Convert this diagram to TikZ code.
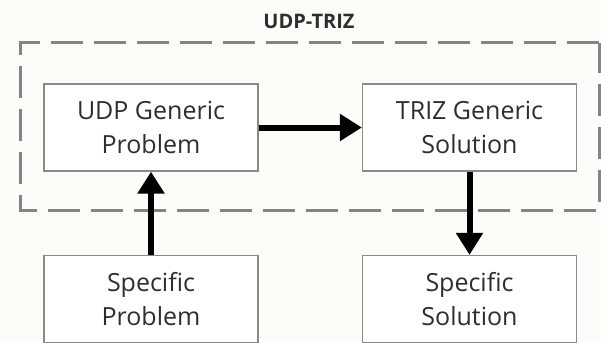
\documentclass[tikz,border=0pt]{standalone}
\usepackage{fontspec}
\setmainfont{Open Sans}
\usetikzlibrary{arrows.meta}
\definecolor{bg}{HTML}{FCFCF9}
\definecolor{txt}{HTML}{2E2E2E}
\definecolor{dashc}{HTML}{848484}
\definecolor{boxc}{HTML}{8A8A8A}
\begin{document}
\begin{tikzpicture}[x=1pt,y=-1pt,
  box/.style={draw=boxc,line width=1.3pt,fill=white,minimum width=214pt,minimum height=87pt,
    align=center,font=\fontsize{25}{34}\selectfont,text=txt,inner sep=0pt},
  conn/.style={line width=6pt,-{Triangle[length=22pt,width=26pt]}}]
\fill[bg] (0,0) rectangle (601,342);
\useasboundingbox (0,0) rectangle (601,342);
\draw[dashc,line width=3pt,dash pattern=on 32pt off 11pt] (599,43) -- (20,43) -- (20,210) -- (599,210) -- cycle;
\node[font=\bfseries\fontsize{20}{24}\selectfont,text=txt] (title) at (309,21) {UDP-TRIZ};
\node[box] (udp) at (151,127.5) {UDP Generic\\Problem};
\node[box] (triz) at (469.5,127.5) {TRIZ Generic\\Solution};
\node[box] (sp) at (151,299) {Specific\\Problem};
\node[box] (ss) at (469.5,299) {Specific\\Solution};
\draw[conn] (udp.east) -- (triz.west);
\draw[conn] (triz.south) -- (ss.north);
\draw[conn] (sp.north) -- (udp.south);
\end{tikzpicture}
\end{document}
